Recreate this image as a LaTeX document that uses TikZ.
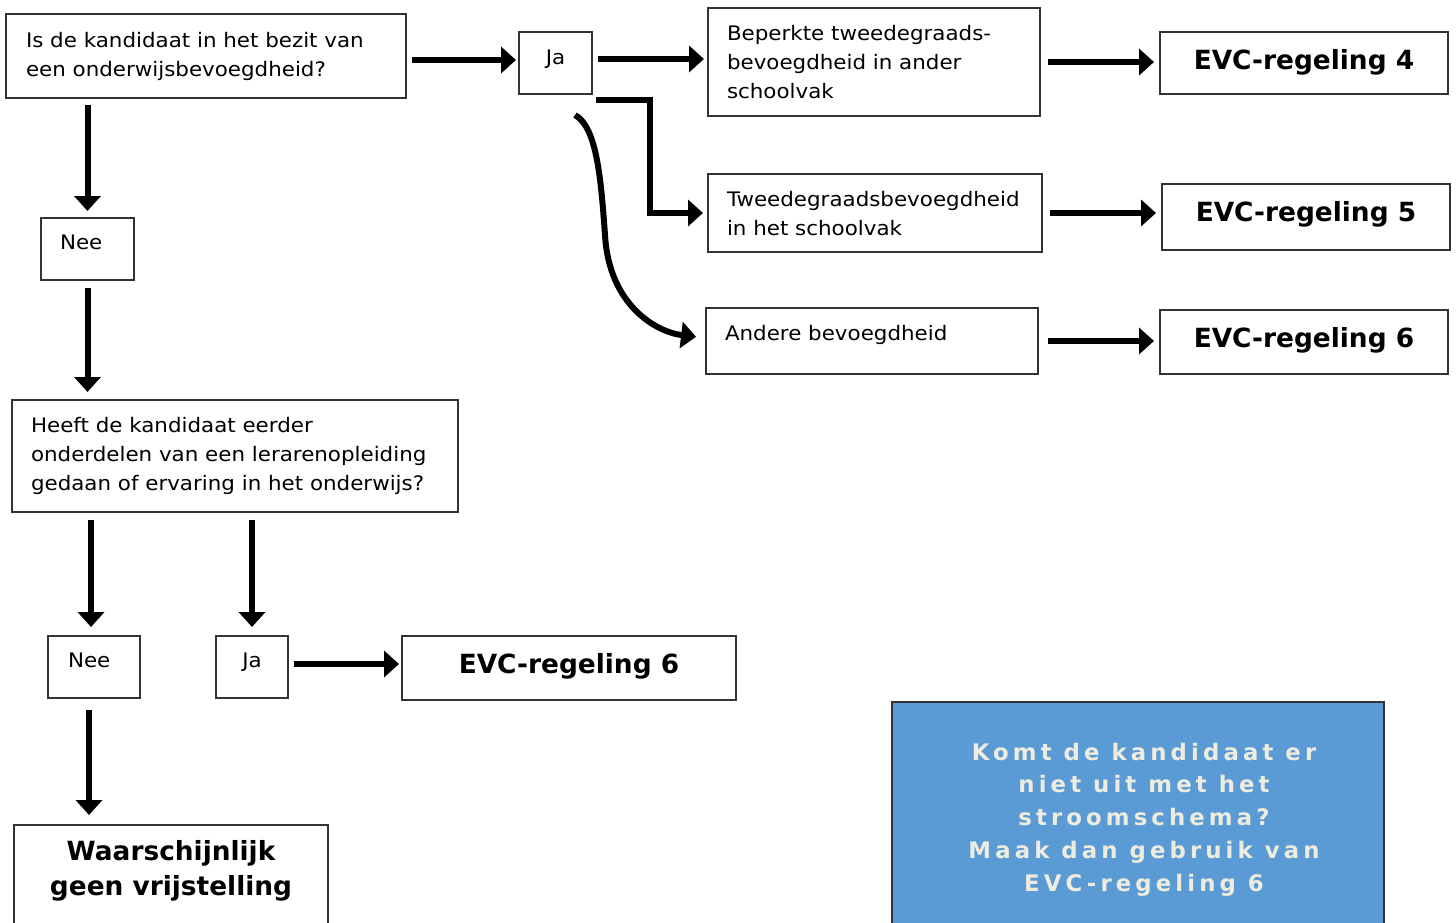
\documentclass[tikz,border=0pt]{standalone}
\usepackage{fontspec}
\setmainfont{DejaVu Sans}[UprightFeatures={FakeStretch=1.07}]
\newfontfamily\spacedfont[LetterSpace=18]{DejaVu Sans}
\usetikzlibrary{arrows.meta,calc}
\definecolor{cream}{RGB}{238,236,222}
\definecolor{bluefill}{RGB}{91,155,213}
\newcommand\bxt[5]{\begin{minipage}[t][#2][t]{#1}#4\vspace*{\dimexpr#3-0.7\baselineskip\relax}\strut#5\end{minipage}}
\newcommand\padl[1]{\leftskip=#1\rightskip=0pt plus 1fil\relax}
\tikzset{
  bx/.style={draw=black!80, line width=0.8pt, inner sep=0pt, outer sep=0pt, anchor=north west, font=\fontsize{10}{14.5}\selectfont},
  bxb/.style={bx, font=\fontsize{13.2}{17.5}\selectfont\bfseries},
  bluebox/.style={bx, fill=bluefill, text=cream, font=\fontsize{11.4}{16.4}\selectfont\spacedfont\bfseries},
  arr/.style={line width=3pt, -{Triangle[length=7.5pt,width=13pt]}},
}
\begin{document}
\begin{tikzpicture}[x=0.5pt,y=-0.5pt]
\useasboundingbox (0,0) rectangle (1456,922);
\clip (0,0) rectangle (1456,922);
% boxes
\node[bx] (q1) at (6,14) {\bxt{200pt}{42pt}{16.5pt}{\padl{10pt}}{Is de kandidaat in het bezit van\\een onderwijsbevoegdheid?}};
\node[bx] (ja1) at (519,32) {\bxt{36.5pt}{31pt}{16pt}{\centering}{Ja}};
\node[bx] (b1) at (708,8) {\bxt{166pt}{54pt}{16pt}{\padl{9.5pt}}{Beperkte tweedegraads-\\bevoegdheid in ander\\schoolvak}};
\node[bxb] (evc4) at (1160,32) {\bxt{144pt}{31pt}{18.5pt}{\centering}{EVC-regeling 4}};
\node[bx] (b2) at (708,174) {\bxt{167pt}{39pt}{16pt}{\padl{9.5pt}}{Tweedegraadsbevoegdheid\\in het schoolvak}};
\node[bxb] (evc5) at (1162,184) {\bxt{144pt}{33pt}{18.5pt}{\centering}{EVC-regeling 5}};
\node[bx] (b3) at (706,308) {\bxt{166pt}{33pt}{16pt}{\padl{9.5pt}}{Andere bevoegdheid}};
\node[bxb] (evc6a) at (1160,310) {\bxt{144pt}{32pt}{18.5pt}{\centering}{EVC-regeling 6}};
\node[bx] (nee1) at (41,218) {\bxt{46.5pt}{31pt}{15.5pt}{\padl{9.5pt}}{Nee}};
\node[bx] (q2) at (12,400) {\bxt{223pt}{56pt}{16pt}{\padl{9.5pt}}{Heeft de kandidaat eerder\\onderdelen van een lerarenopleiding\\gedaan of ervaring in het onderwijs?}};
\node[bx] (nee2) at (48,636) {\bxt{46pt}{31pt}{15.5pt}{\padl{10pt}}{Nee}};
\node[bx] (ja2) at (216,636) {\bxt{36pt}{31pt}{15.5pt}{\centering}{Ja}};
\node[bxb] (evc6b) at (402,636) {\bxt{167pt}{32pt}{18.5pt}{\centering}{EVC-regeling 6}};
\node[bxb] (w) at (14,825) {\bxt{157pt}{60pt}{17.5pt}{\centering}{Waarschijnlijk\\geen vrijstelling}};
\node[bluebox] (blue) at (892,702) {\bxt{246pt}{120pt}{29pt}{\centering\leftskip=6pt plus 1fil\relax}{Komt de kandidaat er\\niet uit met het\\stroomschema?\\Maak dan gebruik van\\EVC-regeling 6}};
% connectors
\draw[arr, shorten <=3pt, shorten >=1.5pt] ([yshift=-2pt]q1.east) -- ([yshift=-2pt]q1.east -| ja1.west);
\draw[arr, shorten <=3pt, shorten >=2pt] ([yshift=2pt]ja1.east) -- ([yshift=2pt]ja1.east -| b1.west);
\draw[arr, shorten >=2.5pt] ([shift={(2pt,-3pt)}]ja1.south east) -- ++(54,0) |- (b2.west);
\draw[arr, shorten >=5pt] ([shift={(9.75pt,-10.5pt)}]ja1.south) .. controls +(22,12) and +(-4,-55) .. ++(30,120) .. controls +(4,70) and +(-50,-6) .. ([yshift=1.5pt]b3.west);
\draw[arr, shorten <=4pt, shorten >=3pt] (b1.east) -- (b1.east -| evc4.west);
\draw[arr, shorten <=4pt, shorten >=3pt] (b2.east) -- (b2.east -| evc5.west);
\draw[arr, shorten <=5pt, shorten >=3pt] (b3.east) -- (b3.east -| evc6a.west);
\draw[arr, shorten <=3.5pt, shorten >=3.5pt] (q1.south -| nee1.north) -- (nee1.north);
\draw[arr, shorten <=4pt, shorten >=4pt] (nee1.south) -- (nee1.south |- q2.north);
\draw[arr, shorten <=4pt, shorten >=4.5pt] ([xshift=-1.5pt]nee2.north |- q2.south) -- ([xshift=-1.5pt]nee2.north);
\draw[arr, shorten <=4pt, shorten >=4.5pt] (ja2.north |- q2.south) -- (ja2.north);
\draw[arr, shorten <=3pt, shorten >=1.5pt] ([yshift=1.5pt]ja2.east) -- ([yshift=1.5pt]ja2.east -| evc6b.west);
\draw[arr, shorten <=6pt, shorten >=5pt] ([xshift=-2.5pt]nee2.south) -- ([xshift=-2.5pt]nee2.south |- w.north);
\end{tikzpicture}
\end{document}
